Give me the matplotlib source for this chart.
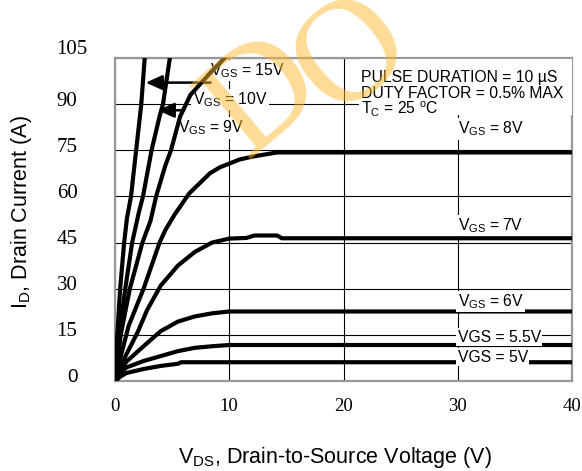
import matplotlib
matplotlib.use("Agg")
import matplotlib.pyplot as plt
from matplotlib.patches import Rectangle
from matplotlib.transforms import ScaledTranslation

# ---- data (V_DS, I_D) ----
v15 = [0, 0.2, 0.45, 0.8, 1.05, 1.4, 1.85, 2.3, 2.6, 2.8]
i15 = [0, 15, 30, 45, 53, 60, 75, 90, 105, 115]

v10 = [0, 0.35, 0.9, 1.5, 2.1, 2.45, 3.2, 3.9, 4.2, 4.8, 5.2]
i10 = [0, 15, 30, 45, 55, 60, 75, 86, 90, 105, 112]

v9 = [0, 0.5, 1.3, 2.4, 3.1, 3.6, 4.4, 4.9, 5.7, 6.6, 8.3, 9.6, 11.0]
i9 = [0, 15, 30, 45, 52, 60, 70, 75, 86, 93, 100, 105, 109]

v8 = [0, 0.5, 1.2, 2.5, 3.9, 4.4, 5.2, 6.5, 8.3, 9.2, 10.9, 12.1, 14.2, 40]
i8 = [0, 8, 18, 30, 45, 49, 54, 61, 67.5, 69.5, 72, 73, 74.3, 74.3]

v7 = [0, 0.2, 1.0, 2.0, 2.8, 4.0, 5.5, 7.0, 8.5, 10.0, 11.5, 12.2, 14.2, 14.6, 40]
i7 = [0, 2.5, 8.7, 16, 23, 31, 37.5, 42, 45, 46.3, 46.5, 47.3, 47.3, 46.4, 46.4]

v6 = [0, 0.3, 1.0, 2.5, 4.0, 5.5, 7.0, 8.5, 10.0, 40]
i6 = [0, 2.5, 6.3, 11.3, 16.2, 19.3, 21.0, 22.0, 22.6, 22.6]

v55 = [0, 0.3, 1.0, 2.5, 4.0, 5.5, 7.0, 8.5, 10.0, 40]
i55 = [0, 2.0, 4.4, 6.5, 8.1, 9.7, 10.8, 11.3, 11.7, 11.7]

v5 = [0, 0.5, 1.0, 2.5, 4.0, 5.5, 5.8, 40]
i5 = [0, 1.5, 2.6, 3.9, 4.9, 5.6, 6.1, 6.1]

xticks = [0, 10, 20, 30, 40]
yticks = [0, 15, 30, 45, 60, 75, 90, 105]

W, H = 582, 471
fig = plt.figure(figsize=(W / 100, H / 100), dpi=100)
ax = fig.add_axes([115 / W, 1 - 381 / H, (572 - 115) / W, (381 - 58) / H])
ax.set_xlim(0, 40)
ax.set_ylim(0, 105)

ax.set_axisbelow(True)
ax.grid(True, color="black", linewidth=0.8)
for s in ax.spines.values():
    s.set_color("#999999")
    s.set_linewidth(1.6)

ax.set_xticks(xticks)
ax.set_yticks(yticks)
ax.set_xticklabels([str(t) for t in xticks], family="Liberation Serif", fontsize=13.5)
ax.set_yticklabels([str(t) for t in yticks], family="Liberation Serif", fontsize=15)
ax.tick_params(length=0)
ax.tick_params(axis="x", pad=12)
ax.tick_params(axis="y", pad=27)
for lab in ax.get_yticklabels():
    lab.set_transform(lab.get_transform() + ScaledTranslation(0, 4 / 72, fig.dpi_scale_trans))
ylabs = ax.get_yticklabels()
ylabs[0].set_family("Liberation Sans")
ylabs[0].set_fontsize(13.5)
ylabs[-1].set_transform(ylabs[-1].get_transform() + ScaledTranslation(7 / 72, 4 / 72, fig.dpi_scale_trans))

lw = 3.0
for v, i in [(v15, i15), (v10, i10), (v9, i9), (v8, i8), (v7, i7), (v6, i6), (v55, i55), (v5, i5)]:
    ax.plot(v, i, color="black", linewidth=lw, zorder=3, solid_joinstyle="round")

# white box behind the conditions text
ax.add_patch(Rectangle((21.4, 86.5), 19, 18.2, facecolor="white", edgecolor="none", zorder=2.6))

fs = 11.3
fam = "Liberation Sans"
ax.text(21.5, 98.7, "PULSE DURATION = 10 µS", fontsize=fs, family=fam, va="center", zorder=2.7)
ax.text(21.5, 93.3, "DUTY FACTOR = 0.5% MAX", fontsize=fs, family=fam, va="center", zorder=2.7)
ax.text(21.5, 88.2, r"T$_\mathregular{C}$ = 25 $^\mathregular{o}$C", fontsize=fs, family=fam, va="center", zorder=2.7)

bb = dict(facecolor="white", edgecolor="none", pad=1.0)
ax.text(8.3, 101.0, r"V$_\mathregular{GS}$ = 15V", fontsize=fs, family=fam, va="center", zorder=2.4, bbox=bb)
ax.text(6.8, 91.5, r"V$_\mathregular{GS}$ = 10V", fontsize=fs, family=fam, va="center", zorder=2.4, bbox=bb)
ax.text(5.5, 82.3, r"V$_\mathregular{GS}$ = 9V", fontsize=fs, family=fam, va="center", zorder=2.4, bbox=bb)
ax.text(30.0, 82.0, r"V$_\mathregular{GS}$ = 8V", fontsize=fs, family=fam, va="center", zorder=4, bbox=bb)
ax.text(30.0, 50.5, r"V$_\mathregular{GS}$ = 7V", fontsize=fs, family=fam, va="center", zorder=4, bbox=bb)
ax.text(30.0, 25.8, r"V$_\mathregular{GS}$ = 6V", fontsize=fs, family=fam, va="center", zorder=4, bbox=bb)
ax.text(30.0, 14.3, "VGS = 5.5V", fontsize=fs, family=fam, va="center", zorder=4, bbox=bb)
ax.text(30.0, 7.8, "VGS = 5V", fontsize=fs, family=fam, va="center", zorder=4, bbox=bb)

# arrows
ax.annotate("", xy=(2.45, 97.0), xytext=(8.6, 97.0),
            arrowprops=dict(arrowstyle="-|>,head_length=1.0,head_width=0.45", color="black", lw=1.8),
            zorder=3.5)
ax.annotate("", xy=(3.5, 88.0), xytext=(6.3, 88.0),
            arrowprops=dict(arrowstyle="-|>,head_length=1.0,head_width=0.45", color="black", lw=1.8),
            zorder=3.5)

fig.text(335 / W, 1 - 457 / H, r"V$_\mathregular{DS}$, Drain-to-Source Voltage (V)",
         fontsize=15.5, family=fam, ha="center", va="center")
fig.text(22 / W, 1 - 212 / H, r"I$_\mathregular{D}$, Drain Current (A)",
         fontsize=15.5, family=fam, ha="center", va="center", rotation=90)

# watermark
wm = dict(fontsize=105, family="Liberation Serif", color="#FFB830", alpha=0.5,
          ha="center", va="center", rotation=40, zorder=20)
fig.text(264 / W, 1 - 98 / H, "D", **wm)
fig.text(354 / W, 1 - 56 / H, "O", **wm)

fig.savefig("out.png", dpi=100)
